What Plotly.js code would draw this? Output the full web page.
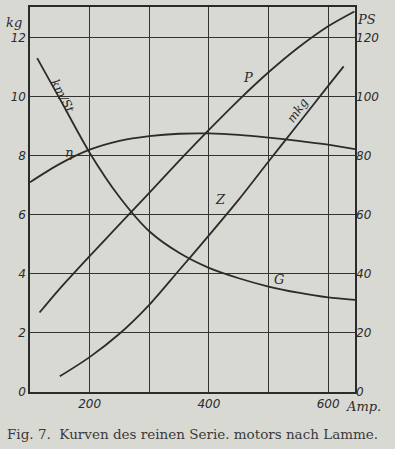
<!DOCTYPE html>
<html>
<head>
<meta charset="utf-8">
<script src="https://cdn.plot.ly/plotly-3.0.1.min.js"></script>
<style>html,body{margin:0;padding:0;background:#d9d9d4;}#chart{width:395px;height:449px;}</style>
</head>
<body>
<div id="chart"></div>
<script>
// Current (Amp.) and curve values (read on the kg scale; right PS scale = kg x 10)
const ampG   = [112, 150, 200, 250, 300, 350, 400, 450, 500, 550, 600, 645];
const speedG = [11.3, 9.92, 8.1, 6.6, 5.44, 4.71, 4.2, 3.85, 3.57, 3.36, 3.2, 3.12];

const ampEta = [100, 150, 200, 250, 300, 350, 400, 450, 500, 550, 600, 645];
const eta    = [7.1, 7.72, 8.2, 8.5, 8.66, 8.74, 8.75, 8.7, 8.61, 8.5, 8.37, 8.22];

const ampP   = [116, 150, 200, 250, 300, 350, 400, 450, 500, 550, 600, 644];
const powerP = [2.69, 3.5, 4.6, 5.67, 6.74, 7.82, 8.87, 9.88, 10.82, 11.66, 12.38, 12.88];

const ampZ   = [150, 200, 250, 300, 350, 400, 450, 500, 550, 600, 626];
const forceZ = [0.53, 1.18, 1.97, 2.95, 4.12, 5.3, 6.51, 7.8, 9.08, 10.36, 11.02];

const xTicks = [200, 300, 400, 500, 600];
const xTickText = ["200", "", "400", "", "600"];
const kgTicks = [0, 2, 4, 6, 8, 10, 12];
const psTicks = [0, 20, 40, 60, 80, 100, 120];

const lineStyle = {color: '#2b2b2b', width: 1.8, shape: 'spline', smoothing: 0.8};
const mk = (x, y) => ({x: x, y: y, type: 'scatter', mode: 'lines', line: lineStyle, hoverinfo: 'skip', showlegend: false});

const traces = [mk(ampG, speedG), mk(ampEta, eta), mk(ampP, powerP), mk(ampZ, forceZ)];

const tickFont = {family: 'DejaVu Sans', size: 12, color: '#2b2b2b', style: 'italic'};
const lblFont = {family: 'DejaVu Serif', size: 13, color: '#2b2b2b', style: 'italic'};

const ann = (x, y, text, extra) => Object.assign({x: x, y: y, xref: 'x', yref: 'y', text: text, showarrow: false, font: lblFont}, extra || {});
const pann = (x, y, text, extra) => Object.assign({x: x, y: y, xref: 'paper', yref: 'paper', xanchor: 'center', yanchor: 'middle', text: text, showarrow: false, font: lblFont}, extra || {});

const layout = {
  width: 395, height: 449,
  margin: {l: 30, r: 40, t: 7, b: 57},
  paper_bgcolor: '#d9d9d4', plot_bgcolor: '#d9d9d4',
  xaxis: {
    range: [100, 645], tickvals: xTicks, ticktext: xTickText,
    showgrid: true, gridcolor: '#333333', gridwidth: 1,
    showline: true, linecolor: '#2b2b2b', linewidth: 1.6, mirror: true,
    ticks: '', zeroline: false, tickfont: tickFont
  },
  yaxis: {
    range: [0, 13.03], tickvals: kgTicks, ticktext: kgTicks.map(String),
    showgrid: true, gridcolor: '#333333', gridwidth: 1,
    showline: true, linecolor: '#2b2b2b', linewidth: 1.6, mirror: true,
    ticks: '', zeroline: false, tickfont: tickFont
  },
  yaxis2: {
    range: [0, 130.3], tickvals: psTicks, ticktext: psTicks.map(String),
    overlaying: 'y', side: 'right', showgrid: false, zeroline: false,
    showline: false, ticks: '', tickfont: tickFont
  },
  annotations: [
    ann(155, 10.03, 'km/St', {textangle: 62, font: Object.assign({}, lblFont, {size: 12})}),
    ann(165, 8.1, 'η'),
    ann(466, 10.63, 'P'),
    ann(549, 9.55, 'mkg', {textangle: -55, font: Object.assign({}, lblFont, {size: 12})}),
    ann(420, 6.51, 'Z'),
    ann(517, 3.8, 'G'),
    pann(-0.05, 0.960, 'kg'),
    pann(1.034, 0.967, 'PS'),
    pann(0.966, -0.038, 'Amp.', {xanchor: 'left'}),
    pann(0.5, -0.108, 'Fig. 7.  Kurven des reinen Serie. motors nach Lamme.',
      {font: {family: 'DejaVu Serif', size: 13.5, color: '#3a3a3a'}})
  ]
};

traces.push({x: [100], y: [0], yaxis: 'y2', type: 'scatter', mode: 'markers', marker: {opacity: 0}, hoverinfo: 'skip', showlegend: false});

Plotly.newPlot('chart', traces, layout, {displayModeBar: false, staticPlot: true});
</script>
</body>
</html>
